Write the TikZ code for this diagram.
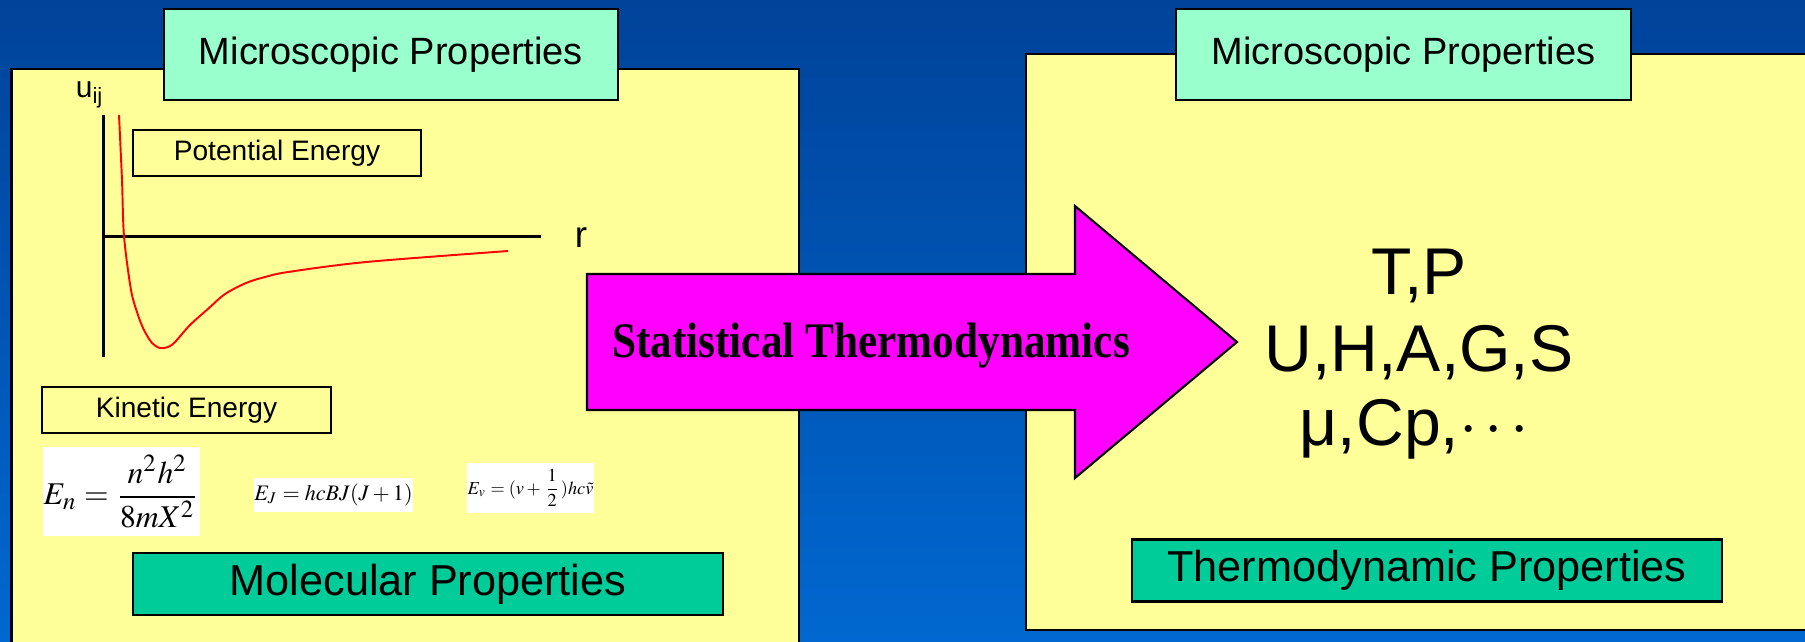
\documentclass[tikz,border=0pt]{standalone}
\usepackage{amsmath}
\usepackage{mathptmx}
\usepackage{fontspec}
\setmainfont{Liberation Serif}
\setsansfont{Liberation Sans}
\definecolor{bgtop}{HTML}{00439A}
\definecolor{bgbot}{HTML}{0068D0}
\definecolor{panelyellow}{HTML}{FFFF99}
\definecolor{mintbox}{HTML}{99FFCC}
\definecolor{greenbox}{HTML}{00CC99}
\definecolor{arrowmag}{HTML}{FF00FF}
\tikzset{
  panel/.style={draw=black, line width=0.6pt, fill=panelyellow},
  headbox/.style={draw=black, line width=0.6pt, fill=mintbox, inner sep=0pt,
    minimum width=4.54cm, minimum height=0.91cm, font=\sffamily\fontsize{10.8}{13}\selectfont},
  footbox/.style={draw=black, line width=0.6pt, fill=greenbox, inner sep=0pt,
    minimum width=5.9cm, minimum height=0.62cm, font=\sffamily\fontsize{12.3}{14}\selectfont},
  energybox/.style={draw=black, line width=0.6pt, fill=panelyellow, inner sep=0pt,
    minimum width=2.88cm, minimum height=0.46cm, font=\sffamily\fontsize{8}{10}\selectfont},
  eqbox/.style={fill=white, inner sep=0pt},
  bigprop/.style={anchor=base, font=\sffamily\fontsize{18.8}{22}\selectfont},
  axisline/.style={line width=0.85pt},
}

\begin{document}
\begin{tikzpicture}[x=0.01cm, y=-0.01cm]
    \useasboundingbox (0,0) rectangle (1805,641);
    \shade[top color=bgtop, bottom color=bgbot] (0,0) rectangle (1805,641);

    % the two panels and the arrow between them
    \path[panel] (11.5,69) rectangle (799,660);
    \path[panel] (1026,54) rectangle (1830,630);
    \filldraw[fill=arrowmag, draw=black, line width=0.6pt]
        (587,274) -- (1075,274) -- (1075,206) -- (1237,342) -- (1075,478) -- (1075,410) -- (587,410) -- cycle;
    \node (stat) [anchor=base, font=\rmfamily\bfseries\fontsize{12.3}{14}\selectfont] at (871,357)
        {\scalebox{1}[1.15]{Statistical Thermodynamics}};

    \node (micL) [headbox] at (391,54.5) {Microscopic Properties};
    \node (micR) [headbox] at (1403.5,54.5) {Microscopic Properties};
    \node (molec) [footbox] at (428,584) {Molecular Properties};
    \node (thermo) [footbox] at (1427,570.5) {Thermodynamic Properties};

    % potential curve
    \coordinate (ytop) at (103.5,115);
    \coordinate (origin) at (103.5,357);
    \coordinate (xaxL) at (103.5,236);
    \coordinate (xaxR) at (541,236);
    \draw[axisline] (ytop) -- (origin);
    \draw[axisline] (xaxL) -- (xaxR);
    \node (uij) [font=\sffamily\fontsize{8.5}{10}\selectfont] at (90,95) {u\textsubscript{ij}};
    \node (rlab) [font=\sffamily\fontsize{10.5}{12}\selectfont] at (581,238) {r};
    \draw[red, line width=0.55pt] plot[smooth, tension=0.5] coordinates {
        (119,115) (122,180) (124,236) (131,290) (138,315) (144,330) (152,343) (160,348)
        (168,347) (175,342) (190,325) (209,308) (225,294) (246,283) (265,277) (288,272)
        (366,262) (508,251)};
    \node (pot) [energybox] at (277,153) {Potential Energy};

    % kinetic part
    \node (kin) [energybox] at (186.5,410) {Kinetic Energy};
    \node (en) [eqbox, minimum width=1.57cm, minimum height=0.89cm] at (121.5,491.5)
        {\fontsize{9}{11}\selectfont$E_n=\dfrac{n^2h^2}{8mX^2}$};
    \node (ej) [eqbox, minimum width=1.57cm, minimum height=0.34cm] at (333.5,495)
        {\fontsize{6.3}{7}\selectfont$E_J=hcBJ(J+1)$};
    \node (ev) [eqbox, minimum width=1.27cm, minimum height=0.5cm] at (530.5,488)
        {\fontsize{5.2}{6}\selectfont$E_v=(v+\dfrac{1}{2})hc\tilde{v}$};

    \node (tp) [bigprop] at (1419,294) {T,P};
    \node (uhags) [bigprop] at (1419,371) {U,H,A,G,S};
    \node (mucp) [bigprop] at (1418,445) {μ,Cp,$\cdots$};
\end{tikzpicture}
\end{document}
